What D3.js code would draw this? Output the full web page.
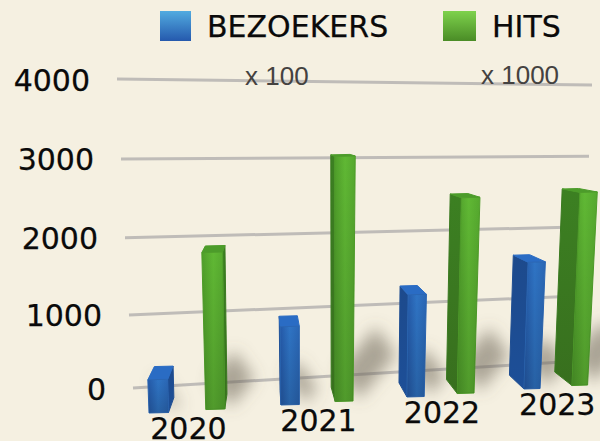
<!DOCTYPE html>
<html><head><meta charset="utf-8">
<script src="https://cdn.jsdelivr.net/npm/d3@7"></script>
<style>html,body{margin:0;padding:0;background:#f5f0e1;overflow:hidden}svg{display:block}</style>
</head><body><svg id="c" width="600" height="441"></svg>
<script>
const years = ["2020","2021","2022","2023"];
const bezoekers = [420, 1030, 1400, 1810];
const hits = [2020, 3280, 2730, 2810];
const ticks = [0, 1000, 2000, 3000, 4000];
const seriesNames = ["BEZOEKERS", "HITS"];
const multipliers = ["x 100", "x 1000"];

const svg = d3.select("#c");
const defs = svg.append("defs");
function grad(id, stops, horiz){
  const g = defs.append("linearGradient").attr("id", id)
    .attr("x1",0).attr("y1",0).attr("x2",horiz?1:0).attr("y2",horiz?0:1);
  stops.forEach(s=>g.append("stop").attr("offset",s[0]).attr("stop-color",s[1]).attr("stop-opacity",s[2]===undefined?1:s[2]));
}
grad("legB",[[0,"#52abe0"],[1,"#2559ad"]]);
grad("legG",[[0,"#7ed24c"],[1,"#4a8c26"]]);
grad("frontB",[[0,"#2459a8"],[.5,"#2f74c4"],[1,"#2a66b4"]],true);
grad("frontG",[[0,"#4f9e2a"],[.5,"#60b834"],[1,"#55a82e"]],true);
grad("sideB",[[0,"#1d4a8c"],[1,"#1d4f98"]]);
grad("sideG",[[0,"#3c8022"],[1,"#386f1e"]]);
grad("shade",[[0,"#000",0],[1,"#000",0.16]]);
defs.append("filter").attr("id","blur").attr("x","-100%").attr("y","-100%").attr("width","300%").attr("height","300%")
  .append("feGaussianBlur").attr("stdDeviation",8);

// warped axes of the tilted chart
const pos = d3.scaleLinear().domain([0,1,2,3,3.43]).range([149,281,407,524,572]);
const base = d3.scaleLinear().domain([0,3]).range([413,389]);
const pxPerUnit = d3.scaleLinear().domain([0,3]).range([0.079,0.070]);
const barW = d3.scaleLinear().domain([0,3.43]).range([19.5,15.6]);
const gridLY = d3.scalePow().exponent(1.04).domain([0,4000]).range([388,79]);
const gridRY = d3.scalePow().exponent(1.04).domain([0,4000]).range([361,85]);
const gridLX = d3.scaleLinear().domain([0,4000]).range([133,117]);
const gridRX = d3.scaleLinear().domain([0,4000]).range([580,592]);
const SERIES_OFFSET = 0.43, VX = 264, VY = 125, KX = 0.056, KY = 0.052;
const back = p => [p[0]+KX*(VX-p[0]), p[1]+KY*(VY-p[1])];

function geom(i, s, v){
  const t = i + s*SERIES_OFFSET, x = pos(t), yb = base(t), w = barW(t);
  const h = v*pxPerUnit(t);
  const lean = (x-345)*0.00018*h, wt = w*(1+h*0.0006);
  const BL=[x,yb], BR=[x+w,yb-0.5], TL=[x+lean,yb-h], TR=[x+lean+wt,yb-h-0.5];
  return {BL,BR,TL,TR,h,backBL:back(BL),backBR:back(BR),backTL:back(TL),backTR:back(TR)};
}
const poly = pts => d3.line()(pts)+"Z";

svg.append("rect").attr("width",600).attr("height",441).attr("fill","#f5f0e1");

// gridlines
svg.append("g").selectAll("line").data(ticks).join("line")
  .attr("x1",gridLX).attr("y1",gridLY).attr("x2",gridRX).attr("y2",gridRY)
  .attr("stroke","#bfbcb8").attr("stroke-width",3);

// all bars
const bars=[];
years.forEach((y,i)=>{
  bars.push({i,s:0,v:bezoekers[i]});
  bars.push({i,s:1,v:hits[i]});
});
bars.forEach(b=>b.g=geom(b.i,b.s,b.v));

// soft floor shadows
svg.append("g").attr("filter","url(#blur)").selectAll("path").data(bars).join("path")
  .attr("d",b=>{
    const g=b.g, dx=Math.min(0.15*g.h,40), dy=Math.min(0.18*g.h,46);
    const A=[g.BR[0]+6,g.BR[1]-2], B=[g.BR[0]-14,g.BR[1]-30];
    return poly([A,B,[B[0]+dx,B[1]-dy],[A[0]+dx,A[1]-dy]]);
  })
  .attr("fill","#6b6558").attr("opacity",0.55);

// bars
const bg = svg.append("g").selectAll("g").data(bars).join("g");
const col = b=>b.s===0?"B":"G";
bg.append("path").attr("d",b=>{
    const g=b.g;
    return g.backBL[0]>g.BL[0]
      ? poly([g.BR,g.TR,g.backTR,g.backBR])
      : poly([g.BL,g.TL,g.backTL,g.backBL]);
  }).attr("fill",b=>`url(#side${col(b)})`)
  .attr("stroke",b=>b.s===0?"#1f4e92":"#3a7a20").attr("stroke-linejoin","round").attr("stroke-width",1);
bg.append("path").attr("d",b=>poly([b.g.TL,b.g.TR,b.g.backTR,b.g.backTL]))
  .attr("fill",b=>b.s===0?"#2a6cc4":"#4c9c2a")
  .attr("stroke",b=>b.s===0?"#2a6cc4":"#4c9c2a").attr("stroke-linejoin","round").attr("stroke-width",1);
bg.append("path").attr("d",b=>poly([b.g.BL,b.g.BR,b.g.TR,b.g.TL]))
  .attr("fill",b=>`url(#front${col(b)})`)
  .attr("stroke",b=>b.s===0?"#2a66b4":"#4f9e2a").attr("stroke-linejoin","round").attr("stroke-width",1);
bg.append("path").attr("d",b=>poly([b.g.BL,b.g.BR,b.g.TR,b.g.TL])).attr("fill","url(#shade)");

const FONT = "'DejaVu Sans', Verdana, sans-serif";
const labelStyle = sel => sel.attr("font-family",FONT).attr("font-size",30).attr("fill","#0a0a0a")
  .attr("stroke","#0a0a0a").attr("stroke-width",0.25);
// value labels
svg.append("g").selectAll("text").data(ticks).join("text")
  .attr("x",d=>gridLX(d)-27).attr("y",d=>gridLY(d)+3)
  .attr("text-anchor","end").attr("dominant-baseline","middle")
  .call(labelStyle).text(d=>d);
// category labels
svg.append("g").selectAll("text").data(years).join("text")
  .attr("x",(d,i)=>{const a=geom(i,0,0),b=geom(i,1,0);return (a.BL[0]+b.BR[0])/2+1.5;})
  .attr("y",(d,i)=>geom(i,1,0).BR[1]+21.5)
  .attr("text-anchor","middle").attr("dominant-baseline","middle")
  .call(labelStyle).text(d=>d);
// legend
const lx = d3.scaleOrdinal().domain(seriesNames).range([160,443]);
const lw = d3.scaleOrdinal().domain(seriesNames).range([31,33]);
const lg = svg.append("g").selectAll("g").data(seriesNames).join("g");
lg.append("rect").attr("x",lx).attr("y",11).attr("width",lw).attr("height",30)
  .attr("fill",(d,i)=>i===0?"url(#legB)":"url(#legG)");
lg.append("text").attr("x",d=>lx(d)+lw(d)+16).attr("y",28).attr("dominant-baseline","middle")
  .call(labelStyle).text(d=>d);
// multipliers
const mx = d3.scaleOrdinal().domain(multipliers).range([245,481]);
svg.append("g").selectAll("text").data(multipliers).join("text")
  .attr("x",mx).attr("y",(d,i)=>i===0?85:84)
  .attr("font-family","'Liberation Sans', Arial, sans-serif").attr("font-size",26).attr("fill","#444240").text(d=>d);
</script></body></html>
